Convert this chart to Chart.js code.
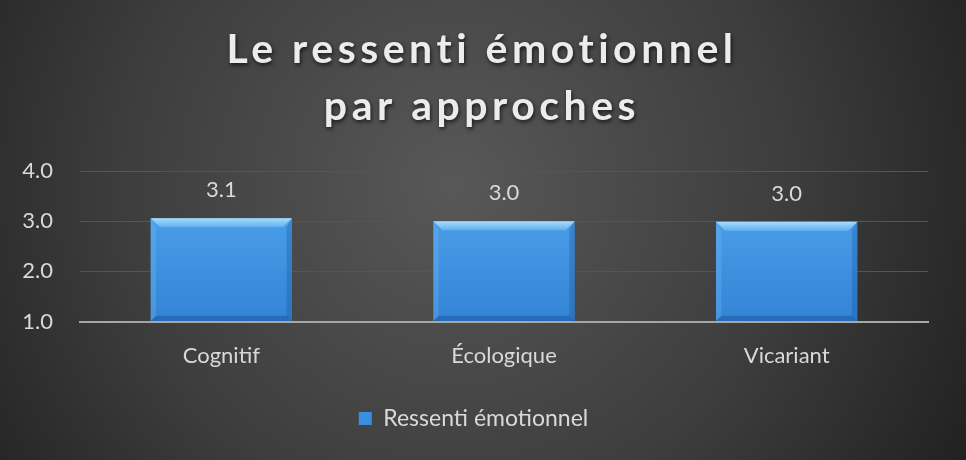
<!DOCTYPE html>
<html>
<head>
<meta charset="utf-8">
<script src="https://cdn.jsdelivr.net/npm/chart.js@4"></script>
<style>
  html, body { margin: 0; padding: 0; background: #2b2b2b; }
  #wrap { width: 966px; height: 460px; }
</style>
</head>
<body>
<div id="wrap"><canvas id="chart" width="966" height="460"></canvas></div>
<script>
const categories = ["Cognitif", "Écologique", "Vicariant"];
const ressenti = [3.06, 3.0, 2.99];
const yTicks = [1.0, 2.0, 3.0, 4.0];
const seriesName = "Ressenti émotionnel";
const titleLines = ["Le ressenti émotionnel", "par approches"];

const FONT = "Lato, 'Open Sans', sans-serif";
const TEXT = "#d9d9d9";

// dark radial background + title drawn by hand (letter spacing)
const backdrop = {
  id: "backdrop",
  beforeDraw(chart) {
    const c = chart.ctx, w = chart.width, h = chart.height;
    c.save();
    const g = c.createRadialGradient(w * 0.47, h * 0.4, 10, w * 0.47, h * 0.4, w * 0.62);
    g.addColorStop(0, "#575757");
    g.addColorStop(0.55, "#3d3d3d");
    g.addColorStop(1, "#1f1f1f");
    c.fillStyle = g;
    c.fillRect(0, 0, w, h);
    c.restore();
  },
  afterDraw(chart) {
    const c = chart.ctx;
    c.save();
    c.font = "bold 41px " + FONT;
    c.letterSpacing = "4.5px";
    c.textAlign = "center";
    c.textBaseline = "alphabetic";
    c.shadowColor = "rgba(0,0,0,0.7)";
    c.shadowBlur = 4;
    c.shadowOffsetX = 1;
    c.shadowOffsetY = 2;
    c.fillStyle = "#ececec";
    titleLines.forEach((t, i) => c.fillText(t, 482, 63 + i * 57));
    c.restore();
  }
};

// bevel on bars + value labels
const bevel = {
  id: "bevel",
  afterDatasetsDraw(chart) {
    const c = chart.ctx;
    const meta = chart.getDatasetMeta(0);
    meta.data.forEach((bar, i) => {
      const p = bar.getProps(["x", "y", "width", "base"], true);
      const l = p.x - p.width / 2, r = p.x + p.width / 2, t = p.y, b = p.base;
      const s = 9;
      c.save();
      let g = c.createLinearGradient(0, t, 0, t + s);
      g.addColorStop(0, "#a9dcfb");
      g.addColorStop(1, "#5fb0ee");
      c.fillStyle = g;
      c.beginPath();
      c.moveTo(l, t); c.lineTo(r, t); c.lineTo(r - s, t + s); c.lineTo(l + s, t + s); c.closePath();
      c.fill();
      c.fillStyle = "rgba(120,190,245,0.3)";
      c.beginPath();
      c.moveTo(l, t); c.lineTo(l + s * 0.6, t + s); c.lineTo(l + s * 0.6, b - s * 0.6); c.lineTo(l, b); c.closePath();
      c.fill();
      c.fillStyle = "rgba(20,80,150,0.3)";
      c.beginPath();
      c.moveTo(r, t); c.lineTo(r - s * 0.6, t + s); c.lineTo(r - s * 0.6, b - s * 0.6); c.lineTo(r, b); c.closePath();
      c.fill();
      c.fillStyle = "rgba(20,70,140,0.4)";
      c.beginPath();
      c.moveTo(l, b); c.lineTo(r, b); c.lineTo(r - s * 0.6, b - s * 0.6); c.lineTo(l + s * 0.6, b - s * 0.6); c.closePath();
      c.fill();
      c.restore();

      c.save();
      c.font = "22px " + FONT;
      c.fillStyle = TEXT;
      c.textAlign = "center";
      c.textBaseline = "middle";
      c.fillText(ressenti[i].toFixed(1), p.x, t - 28);
      c.restore();
    });
  }
};

const ctx = document.getElementById("chart").getContext("2d");
const barFill = ctx.createLinearGradient(0, 210, 0, 322);
barFill.addColorStop(0, "#4c9fea");
barFill.addColorStop(1, "#3384d5");

new Chart(ctx, {
  type: "bar",
  data: {
    labels: categories,
    datasets: [{
      label: seriesName,
      data: ressenti,
      base: yTicks[0],
      backgroundColor: barFill,
      borderWidth: 0,
      barPercentage: 0.5,
      categoryPercentage: 1.0
    }]
  },
  options: {
    responsive: false,
    animation: false,
    layout: { padding: { top: 171, left: 19, right: 38, bottom: 20 } },
    plugins: {
      title: { display: false },
      tooltip: { enabled: false },
      legend: {
        position: "bottom",
        labels: {
          color: TEXT,
          font: { family: FONT, size: 23 },
          boxWidth: 13,
          boxHeight: 13,
          padding: 20,
          generateLabels: () => [{
            text: seriesName,
            fillStyle: "#3b8fe0",
            strokeStyle: "#3b8fe0",
            lineWidth: 0,
            fontColor: TEXT
          }]
        }
      }
    },
    scales: {
      x: {
        grid: { display: false },
        border: { display: true, color: "#a6a6a6", width: 2 },
        ticks: { color: TEXT, font: { family: FONT, size: 22 }, padding: 13 },
        afterFit: (scale) => { scale.height += 5; }
      },
      y: {
        min: yTicks[0],
        max: yTicks[yTicks.length - 1],
        afterBuildTicks: (axis) => { axis.ticks = yTicks.map(v => ({ value: v })); },
        afterFit: (scale) => { scale.width = 61; },
        border: { display: false },
        grid: { color: "#555555", lineWidth: 1, drawTicks: false },
        ticks: {
          color: TEXT,
          font: { family: FONT, size: 22 },
          padding: 27,
          callback: (v) => Number(v).toFixed(1)
        }
      }
    }
  },
  plugins: [backdrop, bevel]
});
</script>
</body>
</html>
